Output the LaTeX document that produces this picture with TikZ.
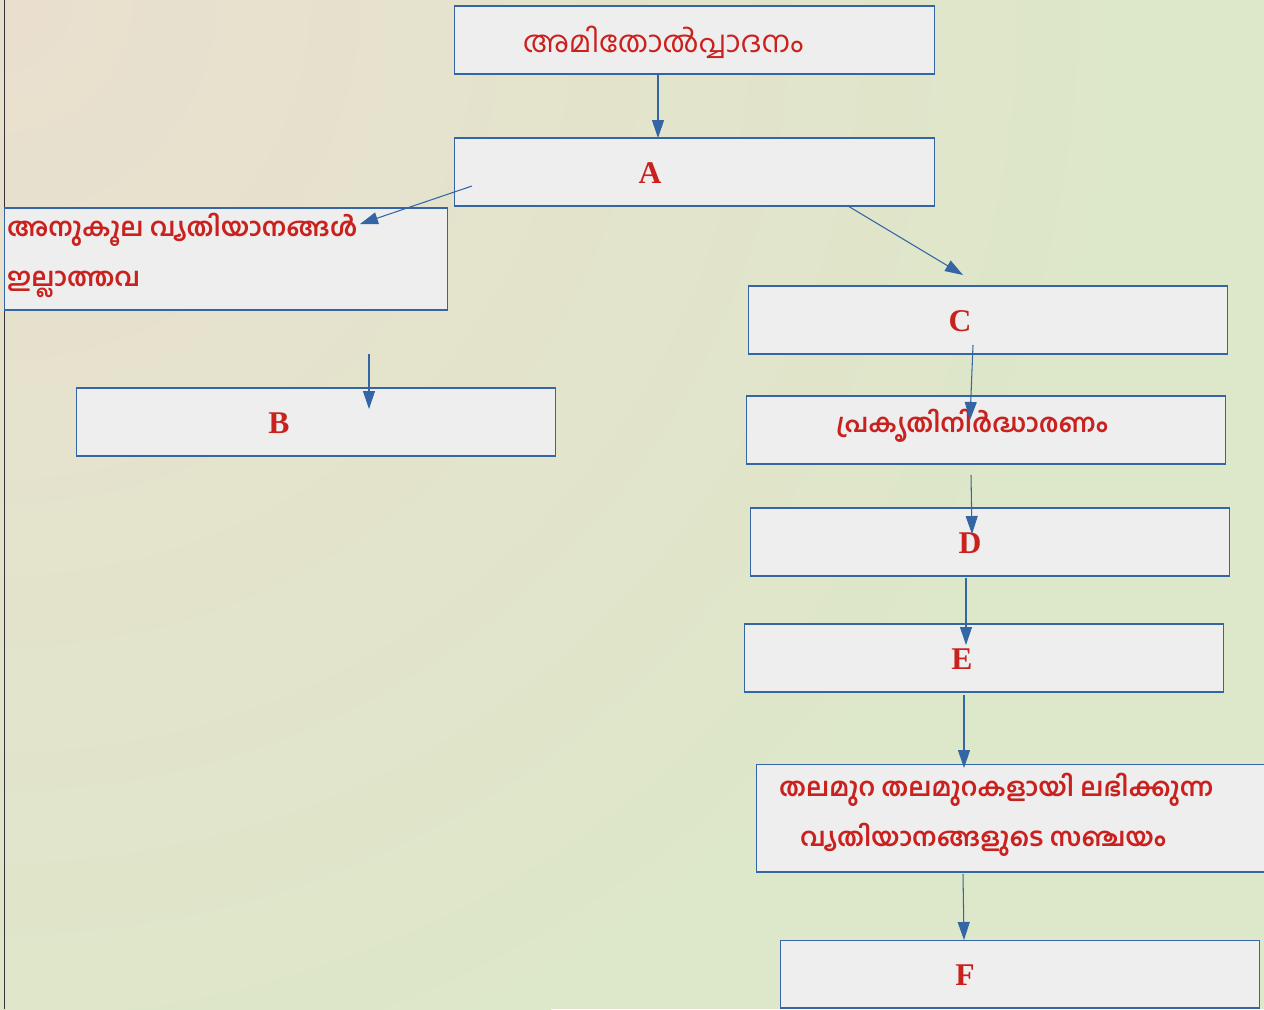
\documentclass[tikz,border=0pt]{standalone}
\usepackage{fontspec}
\setmainfont{Liberation Serif}
\newfontfamily\mlfont[Script=Malayalam]{Hind Kochi}
\usetikzlibrary{arrows.meta}

\definecolor{bgpeach}{HTML}{EADFCF}
\definecolor{bggreen}{HTML}{DDE7C9}
\definecolor{boxline}{HTML}{3465A4}
\definecolor{boxfill}{HTML}{EEEEEE}
\definecolor{txtred}{HTML}{C9211E}

\tikzset{
  box/.style={draw=boxline, fill=boxfill, line width=0.6pt,
    minimum width=9.6cm, minimum height=1.36cm, inner sep=0pt},
  letter/.style={text=txtred, font=\fontsize{18}{20}\selectfont\bfseries},
  ml/.style={text=txtred, font=\mlfont\fontsize{14.6}{28.5}\selectfont\bfseries},
  arr/.style={draw=boxline, line width=0.6pt,
    -{Triangle[length=0.36cm, width=0.24cm]}}
}

\begin{document}
\begin{tikzpicture}[x=0.02cm, y=-0.02cm]
    \useasboundingbox (0,0) rectangle (1264,1009);
    \clip (0,0) rectangle (1264,1009);

    % background
    \fill[bggreen] (0,0) rectangle (1264,1009);
    \shade[inner color=bgpeach, outer color=bggreen] (0,0) circle (1150);
    \draw[black!80, line width=0.6pt] (4.5,0) -- (4.5,1009);

    % boxes
    \node[box] (top) at (694.5,40) {};
    \node[box] (A) at (694.5,172) {};
    \node[box, minimum width=8.88cm, minimum height=2.04cm] (left) at (226,259) {};
    \node[box] (B) at (316,422) {};
    \node[box] (C) at (988,320) {};
    \node[box] (sel) at (986,430) {};
    \node[box] (D) at (990,542) {};
    \node[box] (E) at (984,658) {};
    \node[box, minimum width=10.4cm, minimum height=2.16cm] (gen) at (1016,818) {};
    \node[box] (F) at (1020,974) {};

    % texts
    \node[ml, font=\mlfont\fontsize{17}{28}\selectfont] (top-t) at (663,42) {അമിതോൽപ്പാദനം};
    \node[letter] (A-t) at (650,173) {A};
    \node[ml, anchor=west, align=left] (left-t) at (1,255)
        {അനുകൂല വ്യതിയാനങ്ങൾ\\ഇല്ലാത്തവ};
    \node[letter] (B-t) at (279,423) {B};
    \node[letter] (C-t) at (960,321) {C};
    \node[ml] (sel-t) at (972,426) {പ്രകൃതിനിർദ്ധാരണം};
    \node[letter] (D-t) at (970,543) {D};
    \node[letter] (E-t) at (962,659) {E};
    \node[ml, anchor=west, align=left] (gen-t) at (773,815)
        {തലമുറ തലമുറകളായി ലഭിക്കുന്ന\\\hspace*{0.42cm}വ്യതിയാനങ്ങളുടെ സഞ്ചയം};
    \node[letter] (F-t) at (965,975) {F};

    % arrow ends
    \coordinate (a1) at (658,74);   \coordinate (a2) at (658,138);
    \coordinate (b1) at (472,186);  \coordinate (b2) at (360,224);
    \coordinate (c1) at (848,206);  \coordinate (c2) at (963,275);
    \coordinate (d1) at (369,354);  \coordinate (d2) at (369,409);
    \coordinate (e1) at (973,345);  \coordinate (e2) at (970,420);
    \coordinate (f1) at (971,475);  \coordinate (f2) at (972,534);
    \coordinate (g1) at (966,578);  \coordinate (g2) at (966,645);
    \coordinate (h1) at (964,695);  \coordinate (h2) at (964,768);
    \coordinate (i1) at (963,874);  \coordinate (i2) at (964,940);

    \foreach \s in {a,b,c,d,e,f,g,h,i}
        \draw[arr] (\s1) -- (\s2);

\end{tikzpicture}
\end{document}
